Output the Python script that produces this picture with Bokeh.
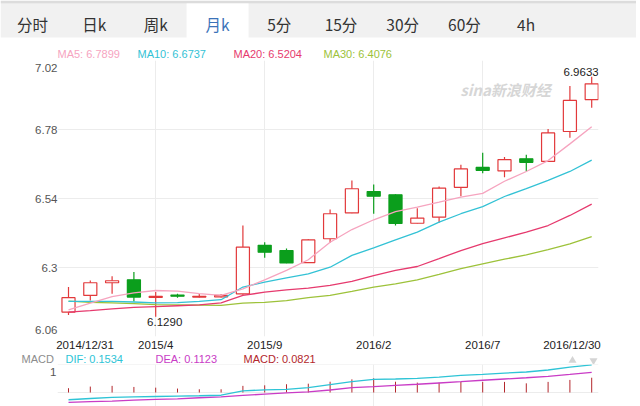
from bokeh.plotting import figure
from bokeh.models import FixedTicker, ColumnDataSource, Range1d
from bokeh.layouts import column, row
from bokeh.embed import file_html
from bokeh.resources import INLINE
from bokeh.core.properties import value

# ---------------- data ----------------
tabs = ["分时", "日k", "周k", "月k", "5分", "15分", "30分", "60分", "4h"]
active_tab = "月k"

date_idx = [0, 4, 9, 14, 19, 24]
date_labels = ["2014/12/31", "2015/4", "2015/9", "2016/2", "2016/7", "2016/12/30"]

y_ticks = [6.06, 6.3, 6.54, 6.78, 7.02]
y_tick_labels = ["6.06", "6.3", "6.54", "6.78", "7.02"]

opens = [6.145, 6.203, 6.247, 6.257, 6.196, 6.204, 6.197, 6.198, 6.208, 6.377,
         6.359, 6.317, 6.400, 6.490, 6.564, 6.553, 6.454, 6.475, 6.579, 6.648,
         6.636, 6.678, 6.669, 6.773, 6.884]
highs = [6.232, 6.255, 6.270, 6.284, 6.215, 6.209, 6.208, 6.207, 6.446, 6.388,
         6.366, 6.398, 6.502, 6.603, 6.589, 6.555, 6.506, 6.582, 6.657, 6.699,
         6.684, 6.692, 6.782, 6.931, 6.9633]
lows = [6.135, 6.185, 6.209, 6.182, 6.129, 6.195, 6.196, 6.196, 6.205, 6.334,
        6.315, 6.316, 6.386, 6.489, 6.487, 6.446, 6.453, 6.456, 6.548, 6.628,
        6.614, 6.634, 6.667, 6.751, 6.856]
closes = [6.195, 6.247, 6.254, 6.197, 6.200, 6.200, 6.200, 6.203, 6.371, 6.353,
          6.316, 6.396, 6.487, 6.574, 6.548, 6.453, 6.472, 6.576, 6.643, 6.638,
          6.675, 6.666, 6.768, 6.881, 6.939]

ma5 = [6.153, 6.176, 6.199, 6.212, 6.220, 6.218, 6.209, 6.203, 6.226, 6.257,
       6.290, 6.327, 6.388, 6.432, 6.466, 6.494, 6.510, 6.527, 6.545, 6.558,
       6.600, 6.634, 6.672, 6.730, 6.7899]
ma10 = [6.182, 6.182, 6.182, 6.180, 6.177, 6.178, 6.182, 6.188, 6.232, 6.249,
        6.264, 6.278, 6.301, 6.342, 6.368, 6.396, 6.423, 6.458, 6.487, 6.512,
        6.547, 6.574, 6.603, 6.634, 6.6737]
ma20 = [6.145, 6.150, 6.156, 6.161, 6.164, 6.167, 6.170, 6.177, 6.203, 6.214,
        6.222, 6.228, 6.238, 6.252, 6.272, 6.290, 6.3035, 6.331, 6.359, 6.383,
        6.403, 6.423, 6.446, 6.481, 6.5204]
ma30 = [6.183, 6.179, 6.177, 6.174, 6.171, 6.170, 6.169, 6.168, 6.176, 6.179,
        6.185, 6.195, 6.203, 6.217, 6.232, 6.243, 6.257, 6.276, 6.296, 6.313,
        6.329, 6.344, 6.362, 6.382, 6.4076]

dif = [-0.040, -0.033, -0.027, -0.024, -0.022, -0.020, -0.018, -0.015, 0.009, 0.015,
       0.018, 0.027, 0.044, 0.060, 0.073, 0.075, 0.079, 0.086, 0.095, 0.101,
       0.108, 0.114, 0.125, 0.141, 0.1534]
dea = [-0.055, -0.051, -0.048, -0.042, -0.038, -0.035, -0.029, -0.024, -0.016, -0.009,
       -0.002, 0.004, 0.014, 0.027, 0.033, 0.040, 0.046, 0.053, 0.060, 0.068,
       0.075, 0.082, 0.090, 0.101, 0.1123]
macd = [0.024, 0.033, 0.037, 0.031, 0.027, 0.022, 0.018, 0.018, 0.037, 0.040,
        0.046, 0.049, 0.060, 0.073, 0.079, 0.060, 0.055, 0.055, 0.059, 0.059,
        0.059, 0.051, 0.059, 0.070, 0.0821]
macd_grid = [0, 0.155]
macd_tick = 0.155
macd_tick_label = "1"

# ---------------- style ----------------
FONT = "Liberation Sans"
CJK = "Noto Sans CJK SC"
UP = "#E2393B"
DOWN = "#0B9E1C"
C_MA5, C_MA10, C_MA20, C_MA30 = "#F6A4BF", "#33C2D5", "#E63A6E", "#9DC23A"
C_DIF, C_DEA, C_MACD = "#2EC4D6", "#C93CC6", "#B3272C"
GRID = "#ececec"
W = 636
LB = 57                  # frame left edge
RB = W - 598             # frame right edge at 598


def strip(h):
    f = figure(width=W, height=h, x_range=Range1d(0, W), y_range=Range1d(0, h),
               toolbar_location=None, output_backend="svg", min_border=0,
               x_axis_location=None, y_axis_location=None, title=None)
    f.grid.visible = False
    f.outline_line_color = None
    f.background_fill_color = "#ffffff"
    f.border_fill_color = "#ffffff"
    return f


# ---------------- tab bar ----------------
TH = 38
pt = strip(TH)
pt.quad(left=0, right=W, bottom=1, top=35, fill_color="#f1f1f1", line_color=None)
pt.quad(left=0, right=W, bottom=35, top=TH, fill_color="#dcdcdc", line_color=None)
tab_x = [32 + 61.7 * i for i in range(len(tabs))]
ai = tabs.index(active_tab)
pt.quad(left=tab_x[ai] - 31, right=tab_x[ai] + 31, bottom=0, top=35,
        fill_color="#ffffff", line_color=None)
tab_colors = ["#3b73b9" if t == active_tab else "#333333" for t in tabs]
pt.text(x=tab_x, y=[14.5] * len(tabs), text=tabs, text_color=tab_colors,
        text_font=value(CJK), text_font_size="15.5px",
        text_align="center", text_baseline="middle")

# ---------------- MA legend strip ----------------
ps1 = strip(22)
ma_names = ["MA5", "MA10", "MA20", "MA30"]
ma_last = [ma5[-1], ma10[-1], ma20[-1], ma30[-1]]
ma_cols = [C_MA5, C_MA10, C_MA20, C_MA30]
ma_lx = [LB + 0, LB + 80, LB + 176, LB + 266]
ps1.text(x=ma_lx, y=[7] * 4, text=[f"{n}: {v:.4f}" for n, v in zip(ma_names, ma_last)],
         text_color=ma_cols, text_font=value(FONT), text_font_size="11px",
         text_baseline="middle")

# ---------------- main candlestick chart ----------------
PX = 21.8
x_start = -11 / PX
x_end = 24 + 6.8 / PX
FH = 276
ypx = FH / (y_ticks[-1] - y_ticks[0])

pm = figure(width=W, frame_height=FH, x_range=Range1d(x_start, x_end),
            y_range=Range1d(y_ticks[0], y_ticks[-1]),
            toolbar_location=None, output_backend="svg", title=None,
            min_border_left=LB, min_border_right=RB, min_border_top=0,
            min_border_bottom=14)
pm.outline_line_color = None
pm.background_fill_color = "#ffffff"
pm.border_fill_color = "#ffffff"

pm.xgrid.ticker = FixedTicker(ticks=date_idx[1:-1])
pm.ygrid.ticker = FixedTicker(ticks=y_ticks)
pm.xgrid.grid_line_color = GRID
pm.ygrid.grid_line_color = GRID

ypos = list(y_ticks)
ypos[0] = round(y_ticks[0] + 6 / ypx, 4)
ypos[-1] = round(y_ticks[-1] - 8 / ypx, 4)
pm.yaxis.ticker = FixedTicker(ticks=ypos)
pm.yaxis.major_label_overrides = {p: l for p, l in zip(ypos, y_tick_labels)}
xpos = [float(v) for v in date_idx]
xpos[0] = round(date_idx[0] + 16.5 / PX, 3)
xpos[-1] = round(date_idx[-1] - 19.7 / PX, 3)
pm.xaxis.ticker = FixedTicker(ticks=xpos)
pm.xaxis.major_label_overrides = {p: l for p, l in zip(xpos, date_labels)}
for ax in (pm.xaxis[0], pm.yaxis[0]):
    ax.axis_line_color = None
    ax.major_tick_line_color = None
    ax.major_tick_out = 0
    ax.major_tick_in = 0
    ax.minor_tick_line_color = None
    ax.minor_tick_out = 0
    ax.major_label_text_font = FONT
    ax.major_label_text_font_size = "11.5px"
pm.yaxis.major_label_standoff = 0
pm.xaxis.major_label_standoff = 2
pm.yaxis.major_label_text_color = "#555555"
pm.xaxis.major_label_text_color = "#222222"

idx = list(range(len(closes)))
is_up = [c >= o for o, c in zip(opens, closes)]
src = ColumnDataSource(dict(
    x=idx, h=highs, l=lows,
    top=[max(o, c) for o, c in zip(opens, closes)],
    bottom=[min(o, c) for o, c in zip(opens, closes)],
    color=[UP if u else DOWN for u in is_up],
    fill=["#ffffff" if u else DOWN for u in is_up],
))
pm.segment(x0="x", y0="h", x1="x", y1="l", line_color="color", line_width=1.2, source=src)
pm.vbar(x="x", width=0.6, top="top", bottom="bottom", fill_color="fill",
        line_color="color", line_width=1.2, source=src)

for arr, col in ((ma30, C_MA30), (ma20, C_MA20), (ma10, C_MA10), (ma5, C_MA5)):
    pm.line(idx, arr, line_color=col, line_width=1.3)

imax = highs.index(max(highs))
imin = lows.index(min(lows))
pm.text(x=[imax], y=[highs[imax]], text=[f"{highs[imax]:.4f}"], x_offset=7, y_offset=-1,
        text_align="right", text_baseline="bottom", text_color="#222222",
        text_font=value(FONT), text_font_size="11.5px")
pm.text(x=[imin], y=[lows[imin]], text=[f"{lows[imin]:.4f}"], x_offset=9, y_offset=1,
        text_align="center", text_baseline="top", text_color="#222222",
        text_font=value(FONT), text_font_size="11.5px")
pm.text(x=[20.05], y=[6.919], text=["sina新浪财经"], text_align="center",
        text_baseline="middle", text_color="#d6d6d6", text_font=value(CJK),
        text_font_size="15px", text_font_style="bold italic")

# ---------------- MACD legend strip ----------------
ps2 = strip(11)
macd_txt = ["MACD", f"DIF: {dif[-1]:.4f}", f"DEA: {dea[-1]:.4f}", f"MACD: {macd[-1]:.4f}"]
macd_cols = ["#8c8c8c", C_DIF, C_DEA, C_MACD]
macd_lx = [21, 65, 155, 243]
ps2.text(x=macd_lx, y=[6.5] * 4, text=macd_txt, text_color=macd_cols,
         text_font=value(FONT), text_font_size="11px", text_baseline="middle")
ps2.scatter(x=[572, 593], y=[5, 5], marker=["triangle", "inverted_triangle"],
            size=8, fill_color="#d4d4d4", line_color=None)

# ---------------- MACD panel ----------------
MH = 42
pdn = figure(width=W, height=MH, x_range=pm.x_range, y_range=Range1d(-0.0775, 0.1555),
             toolbar_location=None, output_backend="svg", title=None,
             x_axis_location=None,
             min_border_left=LB, min_border_right=RB, min_border_top=0,
             min_border_bottom=0)
pdn.outline_line_color = None
pdn.border_fill_color = "#ffffff"
pdn.xgrid.ticker = FixedTicker(ticks=date_idx[1:-1])
pdn.ygrid.ticker = FixedTicker(ticks=macd_grid)
pdn.xgrid.grid_line_color = GRID
pdn.ygrid.grid_line_color = GRID
pdn.yaxis.ticker = FixedTicker(ticks=[macd_tick])
pdn.yaxis.major_label_overrides = {macd_tick: macd_tick_label}
pdn.yaxis.axis_line_color = None
pdn.yaxis.major_tick_line_color = None
pdn.yaxis.major_tick_out = 0
pdn.yaxis.major_tick_in = 0
pdn.yaxis.minor_tick_line_color = None
pdn.yaxis.minor_tick_out = 0
pdn.yaxis.major_label_text_font = FONT
pdn.yaxis.major_label_text_font_size = "11.5px"
pdn.yaxis.major_label_text_color = "#555555"
pdn.yaxis.major_label_standoff = 1

pdn.segment(x0=idx, y0=[0] * len(idx), x1=idx, y1=macd, line_color=C_MACD, line_width=1)
pdn.line(idx, dea, line_color=C_DEA, line_width=1.3)
pdn.line(idx, dif, line_color=C_DIF, line_width=1.3)

layout = column(row(pt), row(ps1), pm, row(ps2), pdn, spacing=0)
open("out.html", "w").write(file_html(layout, INLINE))
